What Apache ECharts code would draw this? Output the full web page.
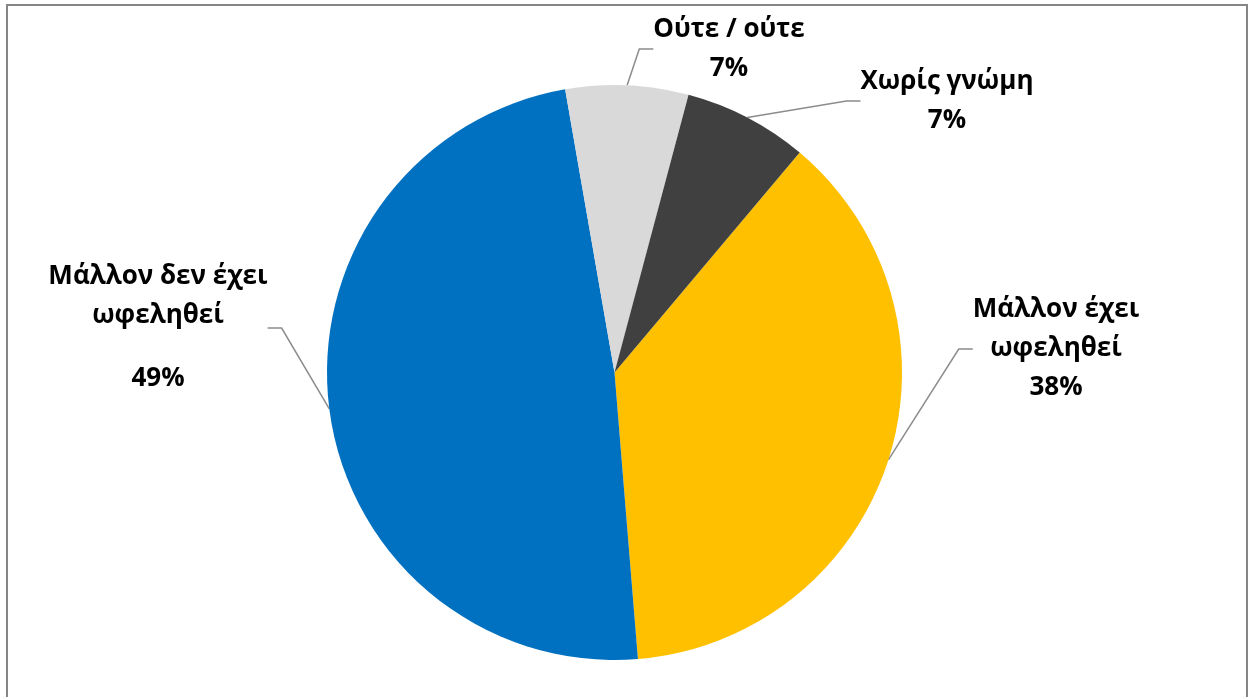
<!DOCTYPE html>
<html>
<head>
<meta charset="utf-8">
<script src="https://cdn.jsdelivr.net/npm/echarts@6/dist/echarts.min.js"></script>
<style>
html,body{margin:0;padding:0;background:#fff;}
#chart{width:1253px;height:697px;}
</style>
</head>
<body>
<div id="chart"></div>
<script>
// Data
const categories = ['Μάλλον έχει ωφεληθεί', 'Μάλλον δεν έχει ωφεληθεί', 'Ούτε / ούτε', 'Χωρίς γνώμη'];
const labelLines = [['Μάλλον έχει', 'ωφεληθεί'], ['Μάλλον δεν έχει', 'ωφεληθεί'], ['Ούτε / ούτε'], ['Χωρίς γνώμη']];
const values = [37.6, 48.6, 6.9, 7.0];
const colors = ['#FFC000', '#0070C0', '#D9D9D9', '#404040'];

// Layout (label block centres)
const labelPos = [[1056, 349], [158, 328], [729, 49], [947, 101]];

const chart = echarts.init(document.getElementById('chart'), null, {renderer: 'canvas'});
const FONT = '"Open Sans", "Noto Sans", sans-serif';
const FS = 26;

chart.setOption({
  animation: false,
  backgroundColor: '#ffffff',
  graphic: [{
    type: 'rect', silent: true, z: 100,
    shape: {x: 7, y: 5, width: 1240, height: 760},
    style: {fill: 'none', stroke: '#868686', lineWidth: 2}
  }],
  series: [{
    type: 'pie',
    center: [614.5, 372.5],
    radius: [0, 287.5],
    startAngle: 49.9,
    clockwise: true,
    avoidLabelOverlap: false,
    itemStyle: {borderWidth: 0},
    data: categories.map((c, i) => ({name: c, value: values[i], itemStyle: {color: colors[i]}})),
    label: {
      show: true,
      position: 'outside',
      color: '#000',
      fontFamily: FONT,
      fontWeight: 'bold',
      fontSize: FS,
      lineHeight: 39,
      align: 'center',
      formatter: function (p) {
        const lines = labelLines[p.dataIndex].map(s => '{a|' + s + '}');
        if (p.dataIndex === 1) lines.push('{s| }');
        lines.push('{a|' + Math.round(p.percent) + '%}');
        return lines.join('\n');
      },
      rich: {
        a: {fontFamily: FONT, fontWeight: 'bold', fontSize: FS, lineHeight: 39, color: '#000', align: 'center'},
        s: {fontSize: 10, lineHeight: 24}
      }
    },
    labelLine: {
      show: true,
      length: 20,
      length2: 14,
      lineStyle: {color: '#8c8c8c', width: 1.5}
    },
    labelLayout: function (params) {
      const p = labelPos[params.dataIndex];
      return {x: p[0], y: p[1], align: 'center', verticalAlign: 'middle'};
    }
  }]
});
</script>
</body>
</html>
